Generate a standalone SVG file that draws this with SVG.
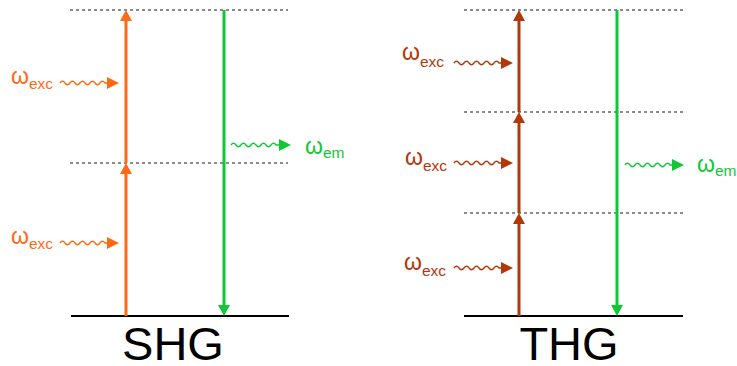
<svg xmlns="http://www.w3.org/2000/svg" width="737" height="366" viewBox="0 0 737 366">
<style>
.dot{stroke:#666;stroke-width:1.3;stroke-dasharray:3 3;fill:none}
.gnd{stroke:#000;stroke-width:2;fill:none}
.wave{fill:none;stroke-width:1.3}
.vert{fill:none;stroke-width:3}
.or{stroke:#FF6A13}
.rd{stroke:#B2380A}
.gr{stroke:#10C837}
.lbl{font-family:"Liberation Sans",Arial,sans-serif;font-size:23px}
.sub{font-size:15.5px}
.big{font-family:"Liberation Sans",Arial,sans-serif;font-size:47px;fill:#000;text-anchor:middle}
</style>
<defs>
<marker id="hOr" markerUnits="userSpaceOnUse" viewBox="0 0 12 12" refX="0" refY="6" markerWidth="12" markerHeight="12" orient="auto"><path d="M0,0 L12,6 L0,12 z" fill="#FF6A13"/></marker>
<marker id="hRd" markerUnits="userSpaceOnUse" viewBox="0 0 12 12" refX="0" refY="6" markerWidth="12" markerHeight="12" orient="auto"><path d="M0,0 L12,6 L0,12 z" fill="#B2380A"/></marker>
<marker id="hGr" markerUnits="userSpaceOnUse" viewBox="0 0 12 12" refX="0" refY="6" markerWidth="12" markerHeight="12" orient="auto"><path d="M0,0 L12,6 L0,12 z" fill="#10C837"/></marker>
<marker id="vOr" markerUnits="userSpaceOnUse" viewBox="0 0 11 12" refX="0" refY="6" markerWidth="11" markerHeight="12" orient="auto"><path d="M0,0 L11,6 L0,12 z" fill="#FF6A13"/></marker>
<marker id="vRd" markerUnits="userSpaceOnUse" viewBox="0 0 11 12" refX="0" refY="6" markerWidth="11" markerHeight="12" orient="auto"><path d="M0,0 L11,6 L0,12 z" fill="#B2380A"/></marker>
<marker id="vGr" markerUnits="userSpaceOnUse" viewBox="0 0 11 12" refX="0" refY="6" markerWidth="11" markerHeight="12" orient="auto"><path d="M0,0 L11,6 L0,12 z" fill="#10C837"/></marker>
</defs>

<g id="shg-levels">
<line class="dot" x1="70" y1="10" x2="288" y2="10"/>
<line class="dot" x1="70" y1="163" x2="288" y2="163"/>
<line class="gnd" x1="71" y1="316" x2="289" y2="316"/>
</g>
<g id="thg-levels">
<line class="dot" x1="464" y1="10" x2="683" y2="10"/>
<line class="dot" x1="464" y1="112" x2="683" y2="112"/>
<line class="dot" x1="464" y1="213" x2="683" y2="213"/>
<line class="gnd" x1="464" y1="316" x2="683" y2="316"/>
</g>

<g id="connectors">
<path class="vert or" d="M126,316 V174" marker-end="url(#vOr)"/>
<path class="vert or" d="M126,163 V21" marker-end="url(#vOr)"/>
<path class="vert gr" d="M224,10 V305" marker-end="url(#vGr)"/>
<path class="wave or" d="M60,83 q2.5,-3.5 5,0 t5,0 t5,0 t5,0 t5,0 t5,0 t5,0 t5,0 t5,0 l2,0" marker-end="url(#hOr)"/>
<path class="wave or" d="M60,243 q2.5,-3.5 5,0 t5,0 t5,0 t5,0 t5,0 t5,0 t5,0 t5,0 t5,0 l2,0" marker-end="url(#hOr)"/>
<path class="wave gr" d="M231,145 q2.5,-3.5 5,0 t5,0 t5,0 t5,0 t5,0 t5,0 t5,0 t5,0 t5,0 l3,0" marker-end="url(#hGr)"/>

<path class="vert rd" d="M519,316 V224" marker-end="url(#vRd)"/>
<path class="vert rd" d="M519,213 V123" marker-end="url(#vRd)"/>
<path class="vert rd" d="M519,112 V21" marker-end="url(#vRd)"/>
<path class="vert gr" d="M617,10 V305" marker-end="url(#vGr)"/>
<path class="wave rd" d="M454,63 q2.5,-3.5 5,0 t5,0 t5,0 t5,0 t5,0 t5,0 t5,0 t5,0 t5,0 l2,0" marker-end="url(#hRd)"/>
<path class="wave rd" d="M454,163 q2.5,-3.5 5,0 t5,0 t5,0 t5,0 t5,0 t5,0 t5,0 t5,0 t5,0 l2,0" marker-end="url(#hRd)"/>
<path class="wave rd" d="M454,268 q2.5,-3.5 5,0 t5,0 t5,0 t5,0 t5,0 t5,0 t5,0 t5,0 t5,0 l2,0" marker-end="url(#hRd)"/>
<path class="wave gr" d="M625,165 q2.5,-3.5 5,0 t5,0 t5,0 t5,0 t5,0 t5,0 t5,0 t5,0 t5,0 l2,0" marker-end="url(#hGr)"/>
</g>

<g id="shg-labels">
<text class="lbl" x="11" y="84" fill="#FF6A13">ω<tspan class="sub" dy="5">exc</tspan></text>
<text class="lbl" x="11" y="244" fill="#FF6A13">ω<tspan class="sub" dy="5">exc</tspan></text>
<text class="lbl" x="305" y="154" fill="#10C837">ω<tspan class="sub" dy="4">em</tspan></text>
<text class="big" x="173" y="360">SHG</text>
</g>
<g id="thg-labels">
<text class="lbl" x="402" y="60" fill="#B2380A">ω<tspan class="sub" dy="7">exc</tspan></text>
<text class="lbl" x="405" y="165" fill="#B2380A">ω<tspan class="sub" dy="6">exc</tspan></text>
<text class="lbl" x="404" y="270" fill="#B2380A">ω<tspan class="sub" dy="6">exc</tspan></text>
<text class="lbl" x="697" y="172" fill="#10C837">ω<tspan class="sub" dy="4">em</tspan></text>
<text class="big" x="569" y="360">THG</text>
</g>
</svg>
